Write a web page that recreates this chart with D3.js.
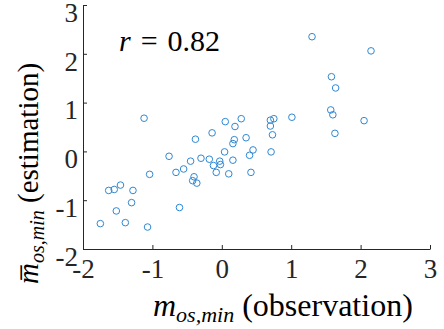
<!DOCTYPE html>
<html>
<head>
<meta charset="utf-8">
<script src="https://cdn.jsdelivr.net/npm/d3@7"></script>
<style>
  body { margin: 0; background: #fff; }
  svg { display: block; }
</style>
</head>
<body>
<div class="chart"></div>
<script>
// observed values (x)
const xObs = [1.30, 2.15, 1.58, 1.64, -1.12, 1.57, 1.60, 2.05, 1.63, 1.01,
  0.70, 0.75, 0.70, 0.73, 0.71, 0.05, 0.28, 0.19, 0.35, 0.18,
  0.16, -0.14, -0.38, 0.04, 0.45, 0.40, -0.76, -0.45, -0.30, -0.18,
  -0.12, -0.03, -0.02, 0.16, -1.04, -0.66, -0.55, -0.08, 0.10, 0.42,
  -0.40, -0.42, -0.36, -1.63, -1.55, -1.46, -1.28, -1.30, -1.52, -0.61,
  -1.75, -1.39, -1.07];
// estimated values (y)
const yEst = [2.35, 2.06, 1.53, 1.30, 0.68, 0.85, 0.75, 0.63, 0.37, 0.70,
  0.64, 0.67, 0.52, 0.34, -0.01, 0.61, 0.67, 0.51, 0.28, 0.24,
  0.16, 0.38, 0.25, -0.01, 0.03, -0.08, -0.10, -0.20, -0.14, -0.16,
  -0.29, -0.20, -0.27, -0.18, -0.47, -0.43, -0.36, -0.43, -0.46, -0.43,
  -0.52, -0.60, -0.65, -0.80, -0.78, -0.69, -0.80, -1.05, -1.22, -1.15,
  -1.48, -1.46, -1.55];
const xTicks = [-2, -1, 0, 1, 2, 3];
const yTicks = [-2, -1, 0, 1, 2, 3];
const corrText = '0.82';

const width = 444, height = 329;
const margin = {top: 5, right: 14, bottom: 80, left: 83};
const serif = "'Liberation Serif', 'Times New Roman', serif";

const svg = d3.select('.chart')
  .append('svg')
  .attr('width', width)
  .attr('height', height);

const scaleX = d3.scaleLinear()
  .domain([-2, 3])
  .range([margin.left, width - margin.right]);

const scaleY = d3.scaleLinear()
  .domain([-2, 3])
  .range([height - margin.bottom, margin.top]);

// plain hyphen for negatives, like the original
const fmt = d => String(d);

// axes, ticks pointing inward
const axX = svg.append('g')
  .attr('transform', `translate(0, ${height - margin.bottom})`)
  .call(d3.axisBottom(scaleX).tickValues(xTicks).tickFormat(fmt)
    .tickSizeInner(-4).tickSizeOuter(0).tickPadding(9));

const axY = svg.append('g')
  .attr('transform', `translate(${margin.left}, 0)`)
  .call(d3.axisLeft(scaleY).tickValues(yTicks).tickFormat(fmt)
    .tickSizeInner(-4).tickSizeOuter(0).tickPadding(5));

[axX, axY].forEach(ax => {
  ax.select('.domain').attr('stroke', '#262626').attr('stroke-width', 1);
  ax.selectAll('.tick line').attr('stroke', '#262626');
  ax.selectAll('.tick text')
    .attr('fill', '#262626')
    .style('font-family', serif)
    .style('font-size', '27px');
});
axY.selectAll('.tick text').attr('dy', '0.6em');
axX.selectAll('.tick text').attr('dy', '0.75em');

// scatter points
const pts = xObs.map((x, i) => [x, yEst[i]]);
svg.append('g')
  .selectAll('circle')
  .data(pts)
  .join('circle')
  .attr('cx', d => scaleX(d[0]))
  .attr('cy', d => scaleY(d[1]))
  .attr('r', 3.3)
  .attr('fill', 'none')
  .attr('stroke', '#2f88d2')
  .attr('stroke-width', 1);

// correlation annotation
const rt = svg.append('text')
  .attr('x', 119)
  .attr('y', 51)
  .style('font-family', serif)
  .style('font-size', '30px')
  .attr('fill', '#000');
rt.append('tspan').style('font-style', 'italic').text('r');
rt.append('tspan').attr('dx', 10).text('=');
rt.append('tspan').attr('dx', 10).text(corrText);

// x label
const xl = svg.append('text')
  .attr('x', 153)
  .attr('y', 316)
  .style('font-family', serif)
  .style('font-size', '32px')
  .attr('fill', '#000');
xl.append('tspan').style('font-style', 'italic').text('m');
xl.append('tspan').style('font-style', 'italic').style('font-size', '22px').attr('dy', 6).text('os,min');
xl.append('tspan').attr('dy', -6).text(' (observation)');

// y label, rotated
const yl = svg.append('text')
  .attr('transform', 'translate(38, 284) rotate(-90)')
  .style('font-family', serif)
  .style('font-size', '29px')
  .attr('fill', '#000');
yl.append('tspan').style('font-style', 'italic').text('m\u0305');
yl.append('tspan').style('font-style', 'italic').style('font-size', '20px').attr('dy', 6).text('os,min');
yl.append('tspan').attr('dy', -6).text(' (estimation)');
</script>
</body>
</html>
